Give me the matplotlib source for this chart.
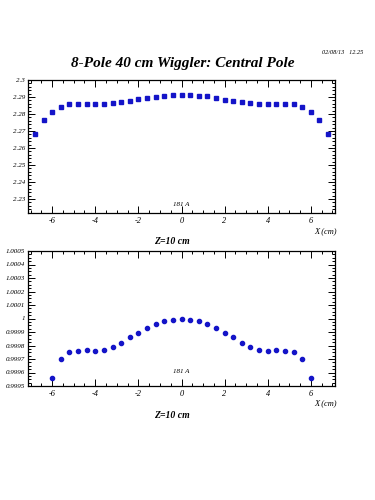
import numpy as np
import matplotlib
matplotlib.use("Agg")
import matplotlib.pyplot as plt
from matplotlib.ticker import MultipleLocator, AutoMinorLocator, FuncFormatter

# ---------------------------------------------------------------------
# field at central pole, Z = 10 cm, 181 A

x_top = np.round(np.arange(-6.8, 6.81, 0.4), 2)
b_top = [2.2680, 2.2763, 2.2813, 2.2843, 2.2857, 2.2861, 2.2859, 2.2857,
         2.2861, 2.2865, 2.2871, 2.2879, 2.2887, 2.2895, 2.2901, 2.2907,
         2.2909, 2.2909, 2.2909, 2.2907, 2.2903, 2.2895, 2.2885, 2.2879,
         2.2873, 2.2867, 2.2861, 2.2857, 2.2861, 2.2861, 2.2857, 2.2843,
         2.2813, 2.2763, 2.2680]

x_bot = np.round(np.arange(-6.0, 6.01, 0.4), 2)
b_bot = [0.99956, 0.99970, 0.99975, 0.99976, 0.99977, 0.99976, 0.99977,
         0.99979, 0.99982, 0.99986, 0.99989, 0.99993, 0.99996, 0.99998,
         0.99999, 1.00000, 0.99999, 0.99998, 0.99996, 0.99993, 0.99989,
         0.99986, 0.99982, 0.99979, 0.99977, 0.99976, 0.99977, 0.99976,
         0.99975, 0.99970, 0.99956]

title = "8-Pole 40 cm Wiggler: Central Pole"
stamp = "02/08/13   12.25"
current = "181 A"
zlabel = "Z=10 cm"
xlabel = "X (cm)"

# ---------------------------------------------------------------------

serif = "Liberation Serif"
blue = "#1414c8"

fig = plt.figure(figsize=(3.75, 5), dpi=100)

def style_axes(ax, ymajor, yminor_n, fmt):
    ax.set_xlim(-7.12, 7.12)
    ax.xaxis.set_major_locator(MultipleLocator(2))
    ax.xaxis.set_minor_locator(MultipleLocator(0.5))
    ax.yaxis.set_major_locator(MultipleLocator(ymajor))
    ax.yaxis.set_minor_locator(AutoMinorLocator(yminor_n))
    ax.yaxis.set_major_formatter(FuncFormatter(fmt))
    ax.xaxis.set_major_formatter(FuncFormatter(lambda v, p: "%g" % v))
    ax.tick_params(which="both", direction="in", top=True, right=True,
                   width=0.7, pad=3)
    ax.tick_params(axis="x", labelsize=6)
    ax.tick_params(axis="y", labelsize=5, pad=2)
    ax.tick_params(which="major", length=5)
    ax.tick_params(which="minor", length=2.5)
    for lab in ax.get_xticklabels() + ax.get_yticklabels():
        lab.set_fontfamily(serif)
        lab.set_fontstyle("italic")
    for sp in ax.spines.values():
        sp.set_linewidth(0.9)

# top panel
ax1 = fig.add_axes([0.0747, 0.574, 0.8186, 0.266])
ax1.plot(x_top, b_top, "s", color=blue, ms=2.7, mec=blue)
ax1.set_ylim(2.2218, 2.3)
style_axes(ax1, 0.01, 5, lambda v, p: "%g" % round(v, 4))
ax1.text(0.0, 2.2270, current, ha="center", va="center",
         fontsize=5, family=serif, style="italic")

# bottom panel
ax2 = fig.add_axes([0.0747, 0.228, 0.8186, 0.270])
ax2.plot(x_bot, b_bot, "o", color=blue, ms=3.0, mec=blue)
ax2.set_ylim(0.9995, 1.0005)
style_axes(ax2, 0.0001, 4, lambda v, p: "%g" % round(v, 5))
ax2.text(0.0, 0.99961, current, ha="center", va="center",
         fontsize=5, family=serif, style="italic")

# labels
fig.text(0.487, 0.872, title, ha="center", va="center", fontsize=11,
         family=serif, weight="bold", style="italic")
fig.text(0.968, 0.895, stamp, ha="right", va="center", fontsize=4.5,
         family=serif, style="italic")
for yx, yz in [(0.537, 0.518), (0.193, 0.170)]:
    fig.text(0.899, yx, xlabel, ha="right", va="center", fontsize=6,
             family=serif, style="italic")
    fig.text(0.459, yz, zlabel, ha="center", va="center", fontsize=7,
             family=serif, weight="bold", style="italic")

fig.savefig("out.png", dpi=100)
